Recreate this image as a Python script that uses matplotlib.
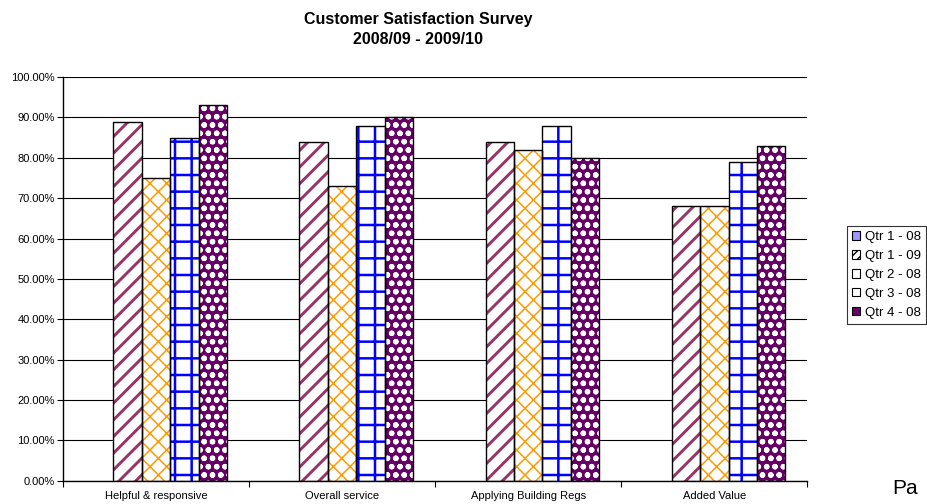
import matplotlib
matplotlib.use("Agg")
import numpy as np
from matplotlib import pyplot as plt
from matplotlib.patches import Patch
from matplotlib.ticker import FuncFormatter, FixedLocator

plt.rcParams["font.family"] = ["Liberation Sans", "DejaVu Sans"]

categories = ["Helpful & responsive", "Overall service",
              "Applying Building Regs", "Added Value"]
series_names = ["Qtr 1 - 08", "Qtr 1 - 09", "Qtr 2 - 08", "Qtr 3 - 08", "Qtr 4 - 08"]

# percentages per quarter, one entry per category
qtr1_08 = [0, 0, 0, 0]
qtr1_09 = [89, 84, 84, 68]
qtr2_08 = [75, 73, 82, 68]
qtr3_08 = [85, 88, 88, 79]
qtr4_08 = [93, 90, 80, 83]

# (face, hatch colour, hatch, hatch linewidth)
styles = [
    ("#9999FF", "#9999FF", None, 1.0),
    ("white", "#993366", "//", 2.1),
    ("white", "#FF9900", "xx", 1.1),
    ("white", "#0000FF", "+", 1.8),
    ("#660066", "white", "oo", 1.6),
]


def main():
    fig = plt.figure(figsize=(9.28, 5.04), dpi=100)
    ax = fig.add_axes([0.068, 0.046, 0.802, 0.801])

    x = np.arange(len(categories))
    w = 0.153
    data = [qtr1_08, qtr1_09, qtr2_08, qtr3_08, qtr4_08]

    for i, (vals, (face, hcol, hatch, hlw)) in enumerate(zip(data, styles)):
        vals = np.asarray(vals, dtype=float) / 100
        if not vals.any():
            continue  # empty series keeps its slot in the group
        pos = x + (i - 2) * w
        bars = ax.bar(pos, vals, w, color=face, edgecolor=hcol, hatch=hatch,
                      linewidth=0, zorder=2)
        for b in bars:
            if hasattr(b, "set_hatch_linewidth"):
                b.set_hatch_linewidth(hlw)
        ax.bar(pos, vals, w, fill=False, edgecolor="black", linewidth=1.0, zorder=3)

    ax.set_ylim(0, 1)
    ax.set_xlim(-0.5, len(categories) - 0.5)
    ax.yaxis.set_major_locator(FixedLocator(np.linspace(0, 1, 11)))
    ax.yaxis.set_major_formatter(FuncFormatter(lambda v, _: f"{v * 100:.2f}%"))
    ax.grid(axis="y", color="black", linewidth=0.8, zorder=1)
    ax.set_axisbelow(True)

    # category ticks sit on the group boundaries, labels in the middle
    ax.set_xticks(np.arange(-0.5, len(categories)), labels=[""] * (len(categories) + 1))
    ax.set_xticks(x, labels=categories, minor=True)
    ax.tick_params(axis="x", which="minor", length=0, pad=7, labelsize=8)
    ax.tick_params(axis="x", which="major", length=4, width=0.8, direction="out")
    ax.tick_params(axis="y", length=4, width=0.8, labelsize=8, pad=2)

    for side in ("top", "right"):
        ax.spines[side].set_visible(False)
    for side in ("left", "bottom"):
        ax.spines[side].set_linewidth(1.0)

    fig.text(0.4505, 0.977, "Customer Satisfaction Survey\n2008/09 - 2009/10",
             ha="center", va="top", fontsize=11.5, fontweight="bold", linespacing=1.45)

    handles = [
        Patch(facecolor="#9999FF", edgecolor="black", linewidth=0.8),
        Patch(facecolor="white", edgecolor="#993366", linewidth=0.8, hatch="////"),
        Patch(facecolor="white", edgecolor="black", linewidth=0.8),
        Patch(facecolor="white", edgecolor="black", linewidth=0.8),
        Patch(facecolor="#660066", edgecolor="black", linewidth=0.8),
    ]
    leg = fig.legend(handles, series_names, loc="upper left",
                     bbox_to_anchor=(0.9127, 0.5516), fontsize=9.5, frameon=True,
                     fancybox=False, edgecolor="black", handlelength=0.6,
                     handleheight=0.6, handletextpad=0.35, labelspacing=0.52,
                     borderpad=0.4, borderaxespad=0)
    leg.get_frame().set_linewidth(0.8)
    for h in leg.legend_handles:
        h.set_edgecolor("black")

    fig.text(0.962, 0.012, "Pa", fontsize=15, ha="left", va="bottom")

    fig.savefig("out.png", dpi=100)


if __name__ == "__main__":
    main()
